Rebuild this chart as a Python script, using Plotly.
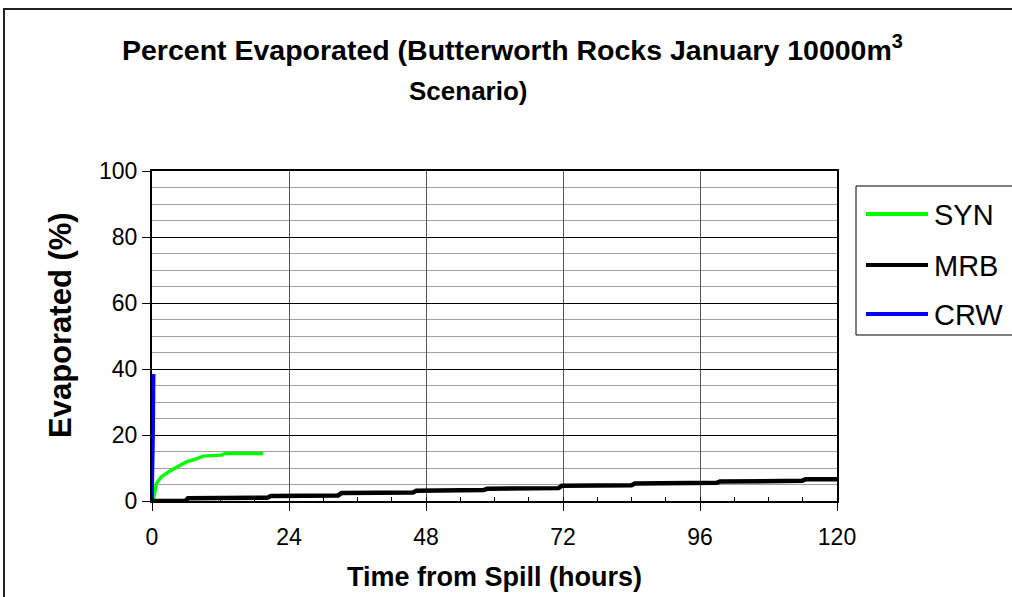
import plotly.graph_objects as go

# ---- data ----
series_names = ["SYN", "MRB", "CRW"]
series_colors = ["#00FF00", "#000000", "#0000FF"]

syn_hours = [0, 0.23, 0.8, 1.7, 3.15, 4.6, 6.1, 7.5, 9.0, 12.2, 12.8, 19.5]
syn_evap = [0, 0.3, 5.4, 7.4, 9.1, 10.4, 11.9, 12.6, 13.6, 13.9, 14.4, 14.4]

mrb_hours = [0, 5.9, 6.3, 20.2, 20.8, 32.6, 33.2, 45.7, 46.3, 58.1, 58.7,
             71.2, 71.8, 84.0, 84.6, 98.9, 99.5, 113.9, 114.5, 121.5]
mrb_evap = [0, 0.1, 0.8, 1.0, 1.5, 1.7, 2.4, 2.6, 3.1, 3.3, 3.7,
            3.9, 4.6, 4.8, 5.3, 5.5, 5.9, 6.1, 6.6, 6.6]

crw_hours = [0, 0.1, 0.2, 0.3]
crw_evap = [0, 8, 19.5, 38.5]

x_ticks = [0, 24, 48, 72, 96, 120]
y_ticks = [0, 20, 40, 60, 80, 100]

title_line1 = "Percent Evaporated (Butterworth Rocks January 10000m<sup>3</sup>"
title_line2 = "Scenario)"
x_title = "Time from Spill (hours)"
y_title = "Evaporated (%)"

FONT = "Liberation Sans, Arial, sans-serif"

fig = go.Figure()
data = [(syn_hours, syn_evap, 3.5), (mrb_hours, mrb_evap, 4.5), (crw_hours, crw_evap, 3.5)]
for (xs, ys, w), name, col in zip(data, series_names, series_colors):
    fig.add_trace(go.Scatter(x=xs, y=ys, mode="lines", name=name,
                             line=dict(color=col, width=w), showlegend=False))

fig.update_xaxes(
    range=[0, 120], tickmode="array", tickvals=x_ticks,
    ticks="outside", ticklen=8, tickcolor="#000", tickwidth=1,
    showgrid=True, gridcolor="#555", gridwidth=1,
    minor=dict(dtick=6, ticks="inside", ticklen=4, tickcolor="#000", showgrid=False),
    showline=True, linecolor="#000", linewidth=2, mirror=True,
    zeroline=False,
    tickfont=dict(family=FONT, size=23, color="#000"),
    ticklabelstandoff=6,
    title=dict(text="<b>" + x_title + "</b>", font=dict(family=FONT, size=27, color="#000"), standoff=19),
    automargin=False,
)
fig.update_yaxes(
    range=[0, 100], tickmode="array", tickvals=y_ticks,
    ticks="outside", ticklen=8, tickcolor="#000", tickwidth=1,
    showgrid=True, gridcolor="#000", gridwidth=1,
    minor=dict(dtick=5, showgrid=True, gridcolor="#a0a0a0", gridwidth=1, ticks=""),
    showline=True, linecolor="#000", linewidth=2, mirror=True,
    zeroline=False,
    tickfont=dict(family=FONT, size=23, color="#000"),
    automargin=False,
)

L, R, T, B = 152, 175, 171, 96
W, H = 1012, 597
pw, ph = W - L - R, H - T - B

def px(x):
    return (x - L) / pw

def py(y):
    return (H - B - y) / ph

shapes = []
annotations = []
# outer chart frame
shapes.append(dict(type="rect", xref="paper", yref="paper",
                   x0=px(4), x1=px(1040), y0=py(640), y1=py(9),
                   line=dict(color="#222", width=2), fillcolor="rgba(0,0,0,0)", layer="below"))
# legend box
shapes.append(dict(type="rect", xref="paper", yref="paper",
                   x0=px(856), x1=px(1030), y0=py(335), y1=py(186),
                   line=dict(color="#000", width=1), fillcolor="white"))
leg_y = [214, 265, 314]
for name, col, yy in zip(series_names, series_colors, leg_y):
    shapes.append(dict(type="line", xref="paper", yref="paper",
                       x0=px(866), x1=px(928), y0=py(yy), y1=py(yy),
                       line=dict(color=col, width=4)))
    annotations.append(dict(xref="paper", yref="paper", x=px(932), y=py(yy + 1),
                            xanchor="left", yanchor="middle", showarrow=False,
                            text=name, font=dict(family=FONT, size=29, color="#000")))
# title
annotations.append(dict(xref="paper", yref="paper", x=px(512), y=py(48),
                        xanchor="center", yanchor="middle", showarrow=False,
                        text="<b>" + title_line1 + "</b>",
                        font=dict(family=FONT, size=28.5, color="#000")))
annotations.append(dict(xref="paper", yref="paper", x=px(468), y=py(91),
                        xanchor="center", yanchor="middle", showarrow=False,
                        text="<b>" + title_line2 + "</b>",
                        font=dict(family=FONT, size=26, color="#000")))
# y axis title
annotations.append(dict(xref="paper", yref="paper", x=px(60), y=py(325),
                        xanchor="center", yanchor="middle", showarrow=False,
                        textangle=-90,
                        text="<b>" + y_title + "</b>",
                        font=dict(family=FONT, size=31, color="#000")))

fig.update_layout(
    width=W, height=H,
    margin=dict(l=L, r=R, t=T, b=B, autoexpand=False),
    paper_bgcolor="white", plot_bgcolor="white",
    shapes=shapes, annotations=annotations,
    showlegend=False,
)

fig.write_html("out.html", config={"displayModeBar": False},
               post_script="document.body.style.margin='0px';")
